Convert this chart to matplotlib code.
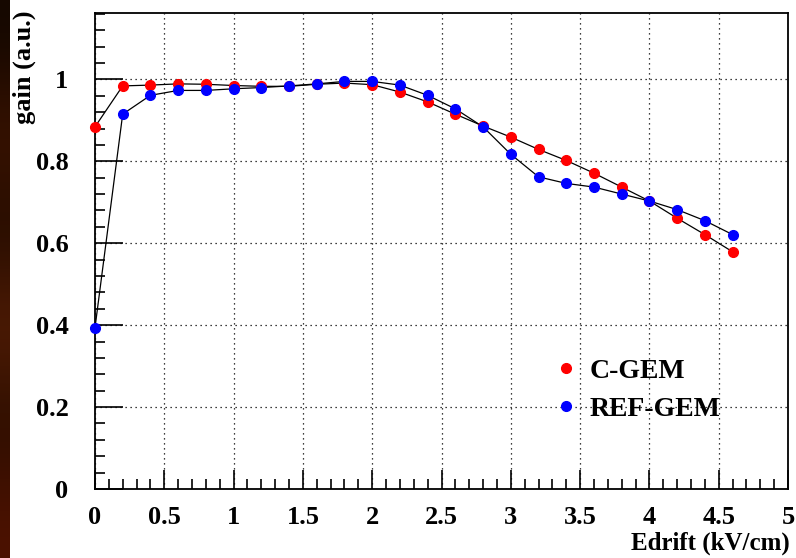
import numpy as np
import matplotlib
matplotlib.use("Agg")
from matplotlib import pyplot as plt
from matplotlib.ticker import MultipleLocator

# drift field (kV/cm)
edrift = [0.0, 0.2, 0.4, 0.6, 0.8, 1.0, 1.2, 1.4, 1.6, 1.8, 2.0, 2.2,
          2.4, 2.6, 2.8, 3.0, 3.2, 3.4, 3.6, 3.8, 4.0, 4.2, 4.4, 4.6]

cgem = [0.884, 0.984, 0.986, 0.989, 0.988, 0.985, 0.983, 0.983, 0.988, 0.991,
        0.987, 0.969, 0.945, 0.915, 0.886, 0.859, 0.829, 0.802, 0.771, 0.737,
        0.703, 0.661, 0.621, 0.579]

refgem = [0.393, 0.915, 0.961, 0.973, 0.973, 0.977, 0.980, 0.984, 0.989, 0.995,
          0.995, 0.986, 0.961, 0.928, 0.884, 0.817, 0.762, 0.746, 0.737, 0.720,
          0.703, 0.682, 0.655, 0.621]

xticks = [0, 0.5, 1, 1.5, 2, 2.5, 3, 3.5, 4, 4.5, 5]
xticklabels = ["0", "0.5", "1", "1.5", "2", "2.5", "3", "3.5", "4", "4.5", "5"]
yticks = [0, 0.2, 0.4, 0.6, 0.8, 1.0]
yticklabels = ["0", "0.2", "0.4", "0.6", "0.8", "1"]

plt.rcParams['font.family'] = ['Liberation Serif', 'DejaVu Serif']
plt.rcParams['font.weight'] = 'bold'

fig = plt.figure(figsize=(7.96, 5.58), dpi=100)

# dark strip on the left edge (background of the original slide)
bg = fig.add_axes([0, 0, 0.012, 1])
grad = np.array([[0.08, 0.03, 0.0], [0.25, 0.08, 0.0], [0.12, 0.04, 0.0],
                 [0.35, 0.12, 0.02], [0.15, 0.05, 0.0], [0.30, 0.07, 0.0]])
bg.imshow(grad[:, None, :], aspect='auto', interpolation='bicubic')
bg.axis('off')

ax = fig.add_axes([0.1193, 0.1237, 0.8707, 0.853])

ax.plot(edrift, cgem, color='black', lw=0.9, zorder=2)
ax.plot(edrift, refgem, color='black', lw=0.9, zorder=2)
ax.plot(edrift, cgem, 'o', color='#ff0000', ms=7, mec='#ff0000', zorder=3, clip_on=False, label='C-GEM')
ax.plot(edrift, refgem, 'o', color='#0000ff', ms=7, mec='#0000ff', zorder=3, clip_on=False, label='REF-GEM')

ax.set_xlim(0, 5)
ax.set_ylim(0, 1.162)

ax.set_xticks(xticks)
ax.set_xticklabels(xticklabels)
ax.set_yticks(yticks)
ax.set_yticklabels(yticklabels)
ax.xaxis.set_minor_locator(MultipleLocator(0.1))
ax.yaxis.set_minor_locator(MultipleLocator(0.04))

ax.tick_params(which='both', direction='in', top=False, right=False, width=1.2)
ax.tick_params(which='major', length=14, labelsize=19, pad=12)
ax.tick_params(which='minor', length=7)
ax.tick_params(axis='y', which='major', length=20, pad=19)

ax.grid(True, which='major', linestyle=(0, (1, 3)), color='black', lw=0.9)

for s in ax.spines.values():
    s.set_linewidth(1.3)

ax.legend(loc='lower right', bbox_to_anchor=(0.938, 0.088), frameon=False,
          prop={'size': 20, 'weight': 'bold'}, handletextpad=0.35,
          labelspacing=0.47, handlelength=1.0)

fig.text(0.030, 0.982, 'gain (a.u.)', rotation=90, ha='center', va='top',
         fontsize=19, fontweight='bold')
fig.text(0.992, 0.027, 'Edrift (kV/cm)', ha='right', va='center',
         fontsize=18, fontweight='bold')

fig.savefig('out.png', dpi=100)
